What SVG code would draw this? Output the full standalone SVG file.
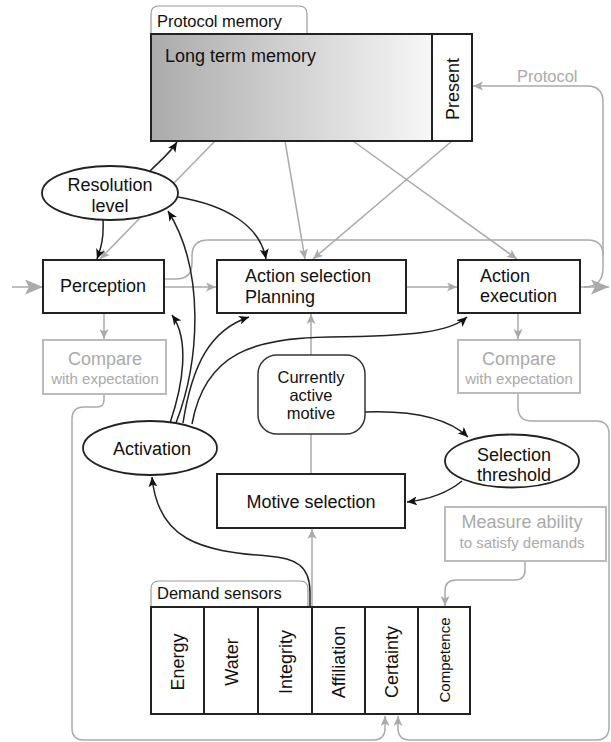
<svg xmlns="http://www.w3.org/2000/svg" width="611" height="742" viewBox="0 0 611 742">
<style>
text{font-family:"Liberation Sans",Arial,sans-serif;fill:#111}
.t18{font-size:18px}
.t17{font-size:16.5px}
.t16{font-size:16.5px}
.g{fill:#aaa}
.box{fill:#fff;stroke:#222;stroke-width:2}
.gbox{fill:#fff;stroke:#bbb;stroke-width:2}
.tab{fill:#fff;stroke:#999;stroke-width:1.2}
.ell{fill:#fff;stroke:#222;stroke-width:1.8}
.bl{fill:none;stroke:#222;stroke-width:1.5}
.gl{fill:none;stroke:#aaa;stroke-width:1.5}
.ba{marker-end:url(#ab)}
.ga{marker-end:url(#ag)}
.bga{marker-end:url(#abig)}
</style>
<defs>
<linearGradient id="ltm" x1="0" y1="0" x2="1" y2="0">
<stop offset="0" stop-color="#ababab"/>
<stop offset="1" stop-color="#f7f7f7"/>
</linearGradient>
<marker id="ab" markerUnits="userSpaceOnUse" markerWidth="11" markerHeight="9" refX="10" refY="4.5" orient="auto">
<path d="M0,0 L10,4.5 L0,9 L2.5,4.5 z" fill="#111"/>
</marker>
<marker id="ag" markerUnits="userSpaceOnUse" markerWidth="11" markerHeight="9" refX="10" refY="4.5" orient="auto">
<path d="M0,0 L10,4.5 L0,9 L2.5,4.5 z" fill="#aaa"/>
</marker>
<marker id="abig" markerUnits="userSpaceOnUse" markerWidth="19" markerHeight="15" refX="18" refY="7.5" orient="auto">
<path d="M0,0 L18,7.5 L0,15 L4,7.5 z" fill="#aaa"/>
</marker>
</defs>

<g id="connectors">
<line class="gl ga" x1="215" y1="141" x2="100" y2="259"/>
<line class="gl ga" x1="285" y1="141" x2="305" y2="259"/>
<line class="gl ga" x1="353" y1="141" x2="517" y2="259"/>
<line class="gl ga" x1="452" y1="141" x2="313" y2="259"/>
<line class="gl bga" x1="12" y1="287" x2="43" y2="287"/>
<line class="gl ga" x1="164" y1="287" x2="216" y2="287"/>
<line class="gl ga" x1="406" y1="287" x2="457" y2="287"/>
<line class="gl bga" x1="580" y1="287" x2="609" y2="287"/>
<line class="gl ga" x1="104" y1="313" x2="104" y2="339"/>
<line class="gl ga" x1="518" y1="313" x2="518" y2="339"/>
<line class="gl ga" x1="311" y1="355" x2="311" y2="314"/>
<line class="gl" x1="311" y1="474" x2="311" y2="434"/>
<line class="gl ga" x1="312" y1="607" x2="312" y2="529"/>
<path class="gl ga" d="M584,287 Q603,287 603,268 L603,102 Q603,86 587,86 L473,86"/>
<path class="gl" d="M164,279 L176,279 Q192,279 192,263 L192,256 Q192,240 208,240 L588,240 Q603,240 603,255"/>
<path class="gl ga" d="M104,394 L104,400 Q104,407 97,407 L84,407 Q72,407 72,419 L72,728 Q72,740 84,740 L373,740 Q385,740 385,728 L385,716"/>
<path class="gl ga" d="M518,393 L518,407 Q518,421 532,421 L596,421 Q609,421 609,434 L609,727 Q609,740 596,740 L410,740 Q398,740 398,728 L398,716"/>
<path class="gl ga" d="M525,561 L525,570 Q525,580 515,580 L456,580 Q445,580 445,591 L445,606"/>
<path class="bl ba" d="M150,171 C160,161 170,153 177,142"/>
<path class="bl ba" d="M103,220 C104,238 101,248 97,259"/>
<path class="bl ba" d="M178,197 C225,205 260,225 266,259"/>
<path class="bl ba" d="M176,423 C200,360 205,270 168,211"/>
<path class="bl ba" d="M170,423 C183,385 190,340 172,315"/>
<path class="bl ba" d="M183,423 C192,365 210,330 249,317"/>
<path class="bl ba" d="M192,424 C205,352 255,338 330,337 C415,336 450,332 467,317"/>
<path class="bl ba" d="M310,607 L310,592 C310,566 296,558 268,556 C200,551 158,540 152,477"/>
<path class="bl ba" d="M365,412 C420,410 450,420 468,437"/>
<path class="bl ba" d="M462,481 C445,495 425,500 407,502"/>
</g>

<g id="protocol-memory">
<path class="tab" d="M151,34 L151,14 Q151,6 159,6 L299,6 Q307,6 307,14 L307,34"/>
<text class="t16" x="157" y="27">Protocol memory</text>
<rect x="151" y="34" width="281" height="107" fill="url(#ltm)" stroke="#222" stroke-width="2"/>
<text class="t18" x="165" y="62">Long term memory</text>
<rect x="432" y="34" width="40" height="107" fill="#fff" stroke="#222" stroke-width="2"/>
<text class="t18" text-anchor="middle" transform="translate(452,89) rotate(-90)" y="6.5">Present</text>
</g>
<g id="protocol-label"><text class="t16 g" x="517" y="82">Protocol</text></g>

<g id="resolution-level">
<ellipse class="ell" cx="110" cy="193" rx="68" ry="27"/>
<text class="t18" text-anchor="middle" x="110" y="191">Resolution</text>
<text class="t18" text-anchor="middle" x="110" y="212">level</text>
</g>

<g id="perception">
<rect class="box" x="43" y="260" width="121" height="53"/>
<text class="t18" text-anchor="middle" x="103" y="292">Perception</text>
</g>

<g id="action-selection">
<rect class="box" x="217" y="260" width="189" height="53"/>
<text class="t18" x="245" y="282">Action selection</text>
<text class="t18" x="245" y="303">Planning</text>
</g>

<g id="action-execution">
<rect class="box" x="458" y="260" width="122" height="53"/>
<text class="t18" x="480" y="282">Action</text>
<text class="t18" x="480" y="302">execution</text>
</g>

<g id="compare-left">
<rect class="gbox" x="43" y="340" width="123" height="54"/>
<text class="t18 g" text-anchor="middle" x="105" y="365">Compare</text>
<text class="g" style="font-size:15px" text-anchor="middle" x="105" y="384">with expectation</text>
</g>

<g id="compare-right">
<rect class="gbox" x="458" y="340" width="122" height="53"/>
<text class="t18 g" text-anchor="middle" x="519" y="365">Compare</text>
<text class="g" style="font-size:15px" text-anchor="middle" x="519" y="384">with expectation</text>
</g>

<g id="currently-active-motive">
<rect x="258" y="355" width="107" height="79" rx="19" fill="#fff" stroke="#333" stroke-width="1.5"/>
<text class="t17" text-anchor="middle" x="311" y="383">Currently</text>
<text class="t17" text-anchor="middle" x="311" y="401">active</text>
<text class="t17" text-anchor="middle" x="311" y="419">motive</text>
</g>

<g id="activation">
<ellipse class="ell" cx="150" cy="448" rx="67" ry="27"/>
<text class="t18" text-anchor="middle" x="152" y="455">Activation</text>
</g>

<g id="selection-threshold">
<ellipse class="ell" cx="512" cy="461" rx="67" ry="26.5"/>
<text class="t18" text-anchor="middle" x="514" y="461">Selection</text>
<text class="t18" text-anchor="middle" x="514" y="481">threshold</text>
</g>

<g id="motive-selection">
<rect class="box" x="217" y="474" width="188" height="54"/>
<text class="t18" text-anchor="middle" x="311" y="508">Motive selection</text>
</g>

<g id="measure-ability">
<rect class="gbox" x="445" y="507" width="161" height="54"/>
<text class="t18 g" text-anchor="middle" x="522" y="528">Measure ability</text>
<text class="g" style="font-size:15px" text-anchor="middle" x="522" y="548">to satisfy demands</text>
</g>

<g id="demand-sensors">
<path class="tab" d="M151,607 L151,589 Q151,581 159,581 L300,581 Q308,581 308,589 L308,607"/>
<text class="t16" x="157" y="599">Demand sensors</text>
<rect class="box" x="151" y="607" width="319" height="107"/>
<line x1="204" y1="607" x2="204" y2="714" stroke="#222" stroke-width="2"/>
<line x1="258" y1="607" x2="258" y2="714" stroke="#222" stroke-width="2"/>
<line x1="312" y1="607" x2="312" y2="714" stroke="#222" stroke-width="2"/>
<line x1="365" y1="607" x2="365" y2="714" stroke="#222" stroke-width="2"/>
<line x1="418" y1="607" x2="418" y2="714" stroke="#222" stroke-width="2"/>
<text class="t18" text-anchor="middle" transform="translate(177.5,662) rotate(-90)" y="6.5">Energy</text>
<text class="t18" text-anchor="middle" transform="translate(231,662) rotate(-90)" y="6.5">Water</text>
<text class="t18" text-anchor="middle" transform="translate(285,662) rotate(-90)" y="6.5">Integrity</text>
<text class="t18" text-anchor="middle" transform="translate(338.5,662) rotate(-90)" y="6.5">Affiliation</text>
<text class="t18" text-anchor="middle" transform="translate(391.5,662) rotate(-90)" y="6.5">Certainty</text>
<text style="font-size:15px" text-anchor="middle" transform="translate(444,660) rotate(-90)" y="5.5">Competence</text>
</g>
</svg>
